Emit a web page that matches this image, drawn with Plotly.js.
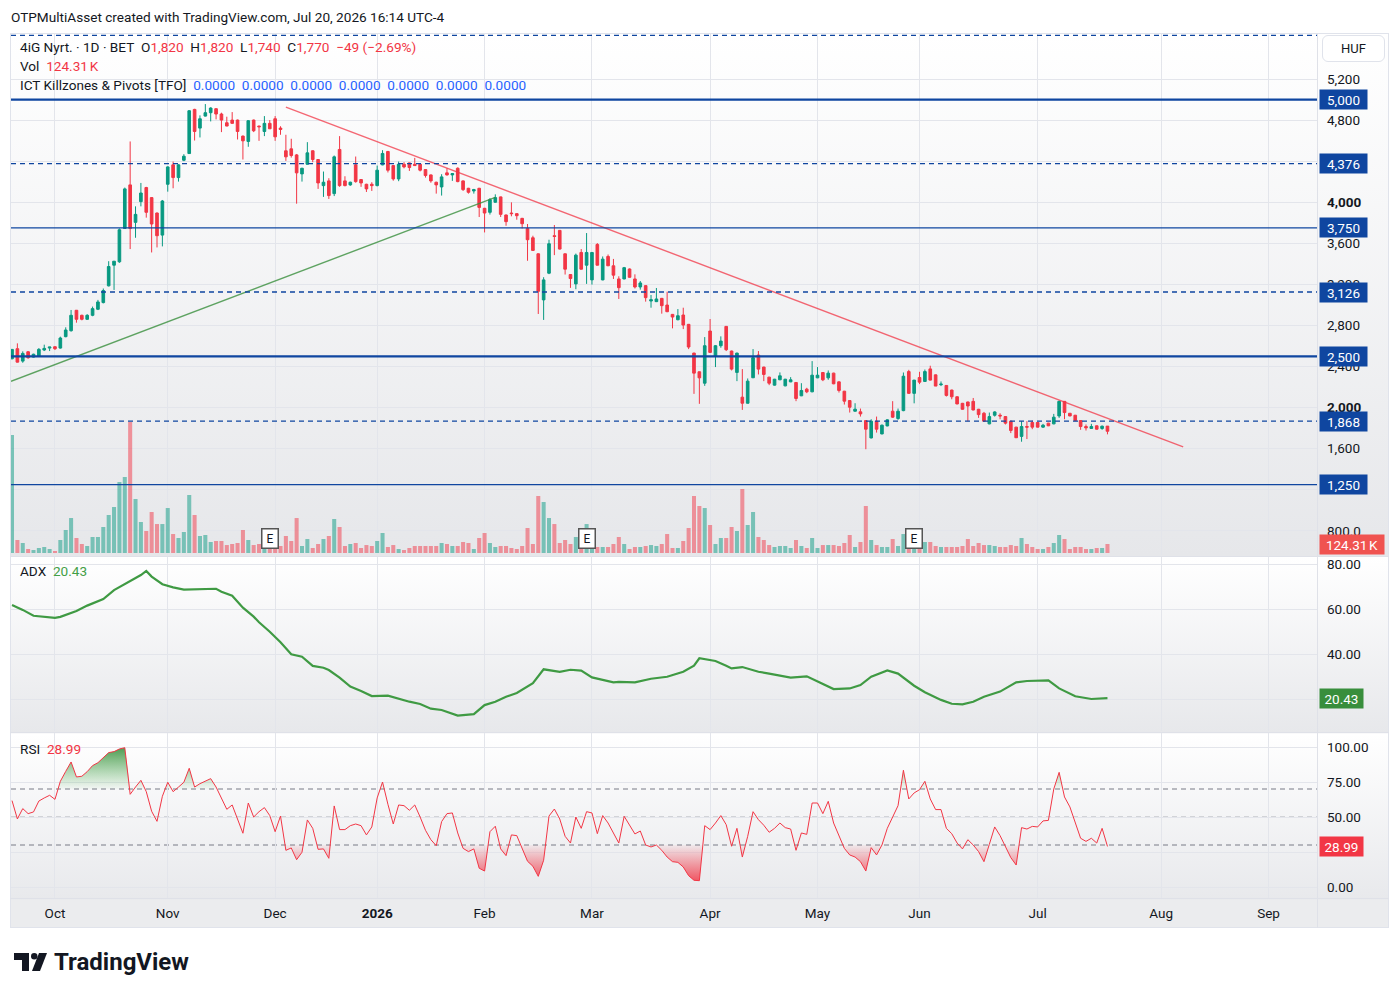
<!DOCTYPE html>
<html><head><meta charset="utf-8">
<script src="https://cdn.plot.ly/plotly-3.0.1.min.js"></script>
<style>
html,body{margin:0;padding:0;background:#fff;overflow:hidden;}
#bg{position:absolute;left:10px;top:33px;width:1379px;height:895px;box-sizing:border-box;border:1px solid #e0e3eb;
background:linear-gradient(to bottom,#ffffff 0px,#e6e7ea 522px,#ffffff 523px,#e7e8eb 698px,#ffffff 700px,#e8e9ec 865px,#ebecee 866px,#ebecee 895px);}
.hl{position:absolute;left:10px;width:1379px;height:1px;background:#dfe1e8;}
.vl{position:absolute;top:33px;left:1317px;width:1px;height:895px;background:#dfe1e8;}
#huf{position:absolute;left:1322px;top:35px;width:63px;height:27px;box-sizing:border-box;border:1px solid #e0e3eb;border-radius:6px;background:#fff;}
#chart{position:absolute;left:0;top:0;width:1400px;height:996px;}
</style></head><body>
<div id="bg"></div>
<div class="hl" style="top:556px"></div>
<div class="hl" style="top:732px"></div>
<div class="hl" style="top:898px"></div>
<div class="vl"></div>
<div id="huf"></div>
<div id="chart"></div>
<script>
// ---------------- DATA ----------------
const open = [2476,2574,2453,2544,2492,2502,2561,2580,2593,2580,
2691,2749,2948,2899,2860,2899,2958,3023,3186,3387,
3420,3745,4169,3804,4006,4143,4045,3895,3680,4175,
4364,4240,4409,4474,4904,4722,4839,4872,4911,4859,
4774,4800,4800,4644,4592,4800,4742,4689,4768,4813,
4722,4501,4520,4461,4276,4370,4501,4416,4162,4208,
4084,4514,4208,4169,4364,4221,4175,4175,4162,4364,
4494,4357,4227,4370,4383,4370,4370,4318,4266,4195,
4149,4286,4266,4331,4208,4136,4110,4136,3941,3902,
4000,4052,3876,3895,3889,3843,3745,3654,3498,3049,
3309,3674,3726,3498,3296,3205,3511,3387,3244,3589,
3244,3472,3381,3253,3253,3350,3253,3175,3188,3038,
3032,3064,2999,2908,2856,2902,2811,2531,2349,2238,
2746,2499,2603,2791,2551,2343,2102,2043,2291,2512,
2395,2297,2219,2271,2212,2251,2245,2115,2180,2154,
2290,2342,2290,2336,2251,2160,2069,1965,1959,1874,
1705,1868,1744,1822,1965,1894,1971,2351,2139,2293,
2255,2377,2319,2223,2216,2171,2106,2042,2055,2061,
1984,1945,1842,1926,1926,1913,1868,1810,1720,1816,
1855,1855,1810,1849,1842,1919,2061,1945,1926,1874,
1816,1797,1823,1797,1820];
const high = [2567,2626,2548,2550,2525,2580,2613,2590,2595,2691,
2782,2951,2951,2905,2910,2984,3049,3160,3426,3426,
3745,4143,4592,3960,4188,4150,4050,3900,4022,4350,
4396,4370,4468,4898,4910,4846,4956,4925,4915,4872,
4833,4878,4805,4650,4800,4805,4745,4839,4800,4839,
4740,4657,4618,4470,4335,4585,4505,4420,4299,4234,
4455,4644,4253,4200,4445,4225,4180,4195,4357,4507,
4500,4360,4396,4390,4385,4432,4375,4320,4270,4200,
4273,4331,4285,4340,4212,4140,4130,4140,3945,4040,
4077,4055,3880,3999,3892,3848,3788,3674,3502,3270,
3635,3778,3730,3500,3300,3500,3544,3700,3515,3602,
3472,3491,3448,3279,3370,3355,3298,3233,3192,3097,
3165,3068,3129,2912,2960,2973,2815,2535,2352,2687,
2863,2610,2694,2795,2555,2535,2375,2284,2570,2551,
2398,2300,2280,2343,2280,2297,2248,2238,2193,2453,
2395,2345,2362,2340,2255,2163,2072,2043,1991,1877,
1887,1913,1835,1887,2063,1991,2342,2368,2270,2349,
2371,2408,2322,2255,2220,2175,2110,2046,2058,2094,
1988,1958,1952,1965,1945,1916,1872,1813,1868,1868,
1874,1858,1842,1852,1939,2068,2064,1948,1929,1877,
1836,1842,1826,1826,1820];
const low = [2470,2440,2437,2476,2488,2500,2551,2551,2561,2575,
2685,2740,2827,2850,2855,2890,2950,3015,3180,3146,
3410,3740,3544,3654,3960,3850,3511,3560,3570,4103,
4136,4201,4400,4470,4601,4631,4835,4787,4807,4683,
4740,4765,4611,4416,4540,4683,4598,4644,4715,4598,
4657,4403,4435,3986,4201,4365,4390,4130,4052,4032,
4060,4150,4155,4160,4190,4150,4100,4110,4155,4360,
4290,4210,4205,4330,4305,4355,4300,4240,4190,4084,
4065,4260,4208,4195,4110,4084,4084,3856,3706,3880,
3995,3856,3771,3863,3830,3745,3430,3525,2912,2854,
3300,3485,3540,3296,3166,3153,3345,3205,3198,3385,
3240,3380,3253,3058,3250,3265,3160,3149,3032,2973,
3028,2915,2930,2772,2850,2765,2570,2134,2037,2212,
2535,2395,2583,2551,2362,2258,1978,2040,2288,2323,
2258,2219,2215,2268,2208,2248,2063,2112,2141,2150,
2287,2258,2271,2228,2147,2030,1952,1962,1913,1595,
1700,1757,1740,1818,1900,1881,1965,2135,2042,2229,
2252,2265,2210,2210,2108,2081,2033,1980,1868,1974,
1900,1865,1838,1913,1887,1836,1752,1704,1668,1694,
1790,1807,1803,1820,1838,1900,1887,1916,1871,1784,
1777,1794,1787,1784,1740];
const close = [2567,2443,2528,2486,2520,2567,2577,2590,2574,2678,
2756,2899,2860,2860,2899,2964,3029,3140,3374,3426,
3732,4130,3745,3882,4090,3902,3788,3674,4012,4344,
4240,4364,4448,4891,4689,4813,4872,4917,4859,4800,
4742,4768,4689,4598,4794,4696,4735,4768,4715,4637,
4709,4442,4455,4286,4331,4481,4416,4188,4195,4065,
4442,4162,4162,4195,4201,4188,4130,4162,4312,4475,
4312,4227,4370,4344,4338,4357,4312,4260,4208,4169,
4247,4266,4279,4201,4123,4097,4123,3950,3895,4025,
4045,3882,3811,3889,3869,3791,3635,3531,3133,3244,
3596,3667,3544,3348,3257,3485,3348,3511,3511,3387,
3446,3381,3290,3168,3363,3269,3175,3214,3071,3051,
3058,2993,2934,2882,2895,2804,2590,2336,2290,2603,
2538,2603,2648,2564,2375,2531,2043,2258,2486,2375,
2323,2238,2277,2310,2277,2271,2089,2167,2154,2316,
2316,2271,2336,2232,2167,2063,2004,1985,1939,1790,
1868,1790,1829,1881,1907,1965,2306,2139,2268,2248,
2351,2268,2210,2229,2119,2106,2036,1984,2016,1977,
1932,1868,1913,1958,1919,1849,1778,1707,1816,1810,
1810,1810,1829,1823,1907,2061,1952,1919,1874,1816,
1803,1816,1790,1819,1770];
// volume in thousands
const volume = [1630,180,138,55,41,69,83,55,28,180,
318,483,207,124,97,221,221,359,525,635,
980,1050,1809,746,428,304,566,400,400,621,
262,207,290,801,525,235,249,152,166,166,
110,124,138,318,180,110,124,83,69,83,
97,235,166,483,97,193,69,124,193,235,
470,359,97,124,138,69,110,97,166,276,
83,110,55,41,69,97,97,97,97,97,
138,124,97,97,152,138,55,207,276,138,
83,97,97,69,55,97,345,124,787,704,
483,400,138,180,124,221,83,400,83,83,
83,83,124,221,124,55,83,83,97,110,
97,124,262,69,69,166,345,787,649,621,
387,124,207,207,359,304,884,387,566,221,
180,110,83,97,97,69,180,97,69,207,
69,110,110,110,97,138,249,83,152,649,
180,110,83,83,193,97,262,138,83,83,
152,152,97,83,83,83,83,97,193,97,
138,110,110,97,83,83,110,97,207,124,
83,55,55,83,138,249,193,55,83,83,
55,55,69,69,124.31];
// ADX readings (bar index, value)
const adxIdx = [0,2,4,6,8,9,12,14,17,19,22,24,25,26,28,30,32,34,36,38,39,41,43,45,46,48,50,52,54,56,58,59,61,63,65,67,70,72,74,76,78,80,82,83,86,88,90,92,94,97,99,102,104,106,108,112,113,116,119,122,125,127,128,131,133,134,136,139,141,145,148,150,153,156,158,160,163,165,168,170,173,175,177,179,181,184,187,189,193,195,198,201,204];
const adxVal = [61.8,59.6,57.0,56.4,56.1,56.5,59.1,61.5,64.4,68.4,72.4,75.1,76.9,74.4,71.0,69.6,68.6,68.7,69.0,69.0,67.7,65.9,60.6,56.6,54.1,49.9,45.2,39.9,38.8,34.7,33.9,32.9,29.5,25.5,23.6,21.3,21.5,20.0,18.8,17.8,15.7,15.1,13.2,12.6,13.3,17.3,18.8,21.0,22.7,27.0,33.2,32.1,33.0,32.6,29.6,27.4,27.6,27.4,29.0,29.9,32.1,34.8,38.1,36.9,34.8,33.6,34.2,32.1,31.3,29.5,30.1,27.7,24.4,24.7,26.2,29.9,32.7,31.3,25.9,23.0,19.6,17.9,17.6,18.8,21.0,23.3,27.4,28.0,28.3,24.7,21.2,20.0,20.43];
const rsi = [61.7,48.6,56.0,52.4,53.6,61.4,63.6,65.5,62.6,75.5,
82.6,89.3,78.6,79.1,82.4,86.7,88.8,92.2,96.0,96.7,
98.6,99.5,66.2,71.4,76.2,68.1,54.1,46.9,64.8,74.8,
68.1,71.4,74.8,84.8,71.4,73.8,75.5,77.4,71.4,63.6,
55.5,58.6,48.6,38.4,60.0,50.0,53.8,56.7,51.0,39.5,
50.7,26.2,27.9,19.5,24.8,47.9,41.9,26.9,27.2,20.5,
57.9,41.0,41.0,43.8,45.0,43.8,37.2,42.9,63.6,75.0,
59.1,45.0,58.6,58.1,54.8,58.6,50.0,40.5,33.8,29.5,
46.7,52.4,52.9,38.6,27.6,25.3,27.2,13.4,11.4,39.5,
43.4,27.2,22.4,37.2,36.7,27.2,18.4,14.8,7.6,19.1,
50.7,55.7,48.6,36.2,31.4,50.0,41.9,53.8,52.9,38.1,
51.0,45.7,38.6,31.4,50.5,44.5,37.9,40.0,30.0,28.6,
30.0,26.2,21.4,18.1,17.6,14.3,8.1,4.8,4.5,43.8,
41.0,45.7,51.0,44.5,29.1,41.9,21.4,36.2,53.8,48.1,
44.1,39.1,41.9,45.7,42.4,41.4,26.2,38.6,37.6,60.0,
60.0,52.4,61.2,45.7,36.7,27.6,22.9,21.4,18.1,11.4,
28.1,22.9,30.0,41.9,50.0,58.1,83.4,62.9,67.2,69.5,
75.5,62.9,55.3,55.3,41.9,38.1,31.4,27.2,33.8,30.0,
25.3,18.1,30.5,42.9,36.7,29.1,21.0,15.7,42.4,41.4,
43.3,42.9,47.2,47.6,70.0,81.9,64.3,57.2,45.3,34.8,
32.6,34.8,31.4,41.9,28.99];
const levelVals = [5625,5000,4376,3750,3126,2500,1868,1250];
const levelBadge = [false,true,true,true,true,true,true,true];
const trendRedX = [51.0, 218.1], trendRedY = [4927, 1617];
const trendGreenX = [-0.19, 90.0], trendGreenY = [2256, 4048];
const earningsIdx = [48, 107, 168];
const monthIdx = [8,29,49,68,88,108,130,150,169,191,214,234];
const monthLbl = ['Oct','Nov','Dec','<b>2026</b>','Feb','Mar','Apr','May','Jun','Jul','Aug','Sep'];
const priceTicks = [800,1200,1600,2000,2400,2800,3200,3600,4000,4400,4800,5200];
const priceTickTxt = ['800.0','','1,600','<b>2,000</b>','2,400','2,800','3,200','3,600','<b>4,000</b>','','4,800','5,200'];
const adxTicks = [20,40,60,80], adxTickTxt = ['','40.00','60.00','80.00'];
const rsiTicks = [0,25,50,75,100], rsiTickTxt = ['0.00','','50.00','75.00','100.00'];
const rsiLevels = [70,50,30];

// ---------------- LAYOUT HELPERS ----------------
const W=1400,H=996,ML=11,MR=83,MT=33,MB=98;
const PW=W-ML-MR, PH=H-MT-MB;
const X = px => (px-ML)/PW;
const Y = py => (MT+PH-py)/PH;
const FONT = "Roboto, 'Noto Sans', Arial, sans-serif";
const GREEN='#089981', RED='#F23645', BLUE='#0f46a0', TXT='#131722';
const idx = close.map((_,i)=>i);
const fmt = v => Math.round(v).toLocaleString('en-US');

const traces = [];
traces.push({type:'bar', x:idx, y:volume, yaxis:'y2', width:0.75,
  marker:{color: close.map((c,i)=> c>=open[i] ? 'rgba(8,153,129,0.5)' : 'rgba(242,54,69,0.5)'), line:{width:0}},
  hoverinfo:'skip', showlegend:false});
traces.push({type:'candlestick', x:idx, open, high, low, close, yaxis:'y', whiskerwidth:0,
  increasing:{line:{color:GREEN,width:1}, fillcolor:GREEN},
  decreasing:{line:{color:RED,width:1}, fillcolor:RED}, showlegend:false, hoverinfo:'skip'});
traces.push({type:'scatter', mode:'lines', x:trendRedX, y:trendRedY, yaxis:'y', line:{color:'rgba(242,54,69,0.75)', width:1.4}, showlegend:false, hoverinfo:'skip'});
traces.push({type:'scatter', mode:'lines', x:trendGreenX, y:trendGreenY, yaxis:'y', line:{color:'rgba(56,142,60,0.8)', width:1.4}, showlegend:false, hoverinfo:'skip'});
traces.push({type:'scatter', mode:'lines', x:adxIdx, y:adxVal, yaxis:'y3', line:{color:'#3f9a43', width:2.2}, showlegend:false, hoverinfo:'skip'});

function band(vals, level, above){
  const xs=[], ys=[];
  for(let i=0;i<vals.length;i++){
    const v=vals[i];
    if(i>0){ const p=vals[i-1];
      if((p-level)*(v-level)<0){ const t=(level-p)/(v-p); xs.push(i-1+t); ys.push(level);} }
    xs.push(i); ys.push(above?Math.max(v,level):Math.min(v,level));
  }
  return {xs,ys};
}
const hi = band(rsi,70,true), lo = band(rsi,30,false);
traces.push({type:'scatter', mode:'lines', x:hi.xs, y:hi.xs.map(()=>70), yaxis:'y4', line:{width:0}, showlegend:false, hoverinfo:'skip'});
traces.push({type:'scatter', mode:'lines', x:hi.xs, y:hi.ys, yaxis:'y4', line:{width:0}, fill:'tonexty',
  fillcolor:'rgba(76,175,80,0.4)',
  fillgradient:{type:'vertical', start:70, stop:100, colorscale:[[0,'rgba(76,175,80,0.03)'],[1,'rgba(56,142,60,0.9)']]},
  showlegend:false, hoverinfo:'skip'});
traces.push({type:'scatter', mode:'lines', x:lo.xs, y:lo.xs.map(()=>30), yaxis:'y4', line:{width:0}, showlegend:false, hoverinfo:'skip'});
traces.push({type:'scatter', mode:'lines', x:lo.xs, y:lo.ys, yaxis:'y4', line:{width:0}, fill:'tonexty',
  fillcolor:'rgba(242,54,69,0.4)',
  fillgradient:{type:'vertical', start:0, stop:30, colorscale:[[0,'rgba(242,54,69,0.95)'],[1,'rgba(242,54,69,0.04)']]},
  showlegend:false, hoverinfo:'skip'});
traces.push({type:'scatter', mode:'lines', x:idx, y:rsi, yaxis:'y4', line:{color:RED, width:1}, showlegend:false, hoverinfo:'skip'});

// ---------------- SHAPES ----------------
const shapes = [];
levelVals.forEach((v,k)=>{
  const dashed = (k%2===0);
  const thick = (v===5000||v===2500);
  shapes.push({type:'line', xref:'paper', x0:0, x1:1, yref:'y', y0:v, y1:v, layer:'above',
    line:{color:BLUE, width: thick?2.2:(dashed?1.3:1.1), dash: dashed?'5px,4px':'solid'}});
});
rsiLevels.forEach(v=>{
  shapes.push({type:'line', xref:'paper', x0:0, x1:1, yref:'y4', y0:v, y1:v, layer:'below',
    line:{color: v===50?'rgba(120,123,134,0.55)':'#787b86', width:1, dash:'5px,4px'}});
});
const P = (pts)=> 'M'+pts.map(p=>X(p[0])+','+Y(p[1])).join(' L')+' Z';
shapes.push({type:'path', xref:'paper', yref:'paper', path:P([[14,953],[29,953],[29,971],[22,971],[22,960],[14,960]]), fillcolor:TXT, line:{width:0}});
shapes.push({type:'circle', xref:'paper', yref:'paper', x0:X(31), x1:X(37.5), y0:Y(953), y1:Y(959.5), fillcolor:TXT, line:{width:0}});
shapes.push({type:'path', xref:'paper', yref:'paper', path:P([[39,953],[47,953],[40,971],[32,971]]), fillcolor:TXT, line:{width:0}});

// ---------------- ANNOTATIONS ----------------
const ann = [];
const T = (px,py,text,size,opts)=> ann.push(Object.assign({xref:'paper', yref:'paper', x:X(px-2), y:Y(py), xanchor:'left', yanchor:'middle',
  text, showarrow:false, font:{family:FONT, size:size||13, color:TXT}}, opts||{}));
const Rc = s=>`<span style="color:${RED}">${s}</span>`;
const Bc = s=>`<span style="color:#2962ff">${s}</span>`;
const Gc = s=>`<span style="color:#43a047">${s}</span>`;
const n = close.length-1;
const chg = close[n]-close[n-1];
const pct = chg/close[n-1]*100;
const sp='\u00a0\u00a0';
T(11,17,'OTPMultiAsset created with TradingView.com, Jul 20, 2026 16:14 UTC-4',13.6);
T(20,47,`4iG Nyrt. · 1D · BET${sp}O${Rc(fmt(open[n]))}${sp}H${Rc(fmt(high[n]))}${sp}L${Rc(fmt(low[n]))}${sp}C${Rc(fmt(close[n]))}${sp}${Rc((chg<0?'\u2212':'+')+Math.abs(chg)+' ('+(chg<0?'\u2212':'+')+Math.abs(pct).toFixed(2)+'%)')}`,13.6);
T(20,66,`Vol${sp}${Rc(volume[n].toFixed(2)+'\u202fK')}`,13.6);
T(20,85,`ICT Killzones &amp; Pivots [TFO]${sp}`+Bc(Array(7).fill('0.0000').join('\u00a0\u00a0')),13.6);
T(20,571,`ADX${sp}${Gc(adxVal[adxVal.length-1].toFixed(2))}`,13.6);
T(20,749,`RSI${sp}${Rc(rsi[n].toFixed(2))}`,13.6);
T(54,962,'<b>TradingView</b>',24);
ann.push({xref:'paper', yref:'paper', x:X(1353.5), y:Y(48.5), text:'HUF', showarrow:false, xanchor:'center', yanchor:'middle',
  font:{family:FONT,size:13,color:TXT}});
function badge(yref, y, text, color, w){
  ann.push({xref:'paper', x:X(1319), xanchor:'left', yref, y, yanchor:'middle', text, showarrow:false,
    font:{family:FONT,size:13.5,color:'#ffffff'}, bgcolor:color, borderpad:2, width:w, height:15, align:'center'});
}
levelVals.forEach((v,k)=>{ if(levelBadge[k]) badge('y', v, fmt(v), BLUE, 43); });
badge('y2', volume[n], volume[n].toFixed(2)+'\u202fK', '#f05350', 60);
badge('y3', adxVal[adxVal.length-1], adxVal[adxVal.length-1].toFixed(2), '#388e3c', 39);
badge('y4', rsi[n], rsi[n].toFixed(2), RED, 39);
earningsIdx.forEach(i=>{
  ann.push({xref:'x', x:i, yref:'paper', y:Y(538), text:'E', showarrow:false, xanchor:'center', yanchor:'middle',
    font:{family:FONT,size:12,color:TXT}, bgcolor:'#ffffff', bordercolor:'#555', borderwidth:1.5, borderpad:2, width:11, height:14});
});

const GRID='#e3e5eb';
const axY = (extra)=>Object.assign({side:'right', anchor:'x', showgrid:true, gridcolor:GRID, gridwidth:1, zeroline:false, showline:false,
  ticks:'', ticklabelstandoff:9, tickfont:{family:FONT,size:13.5,color:TXT}, fixedrange:true}, extra);

const layout = {
  width:W, height:H, margin:{l:ML, r:MR, t:MT, b:MB},
  paper_bgcolor:'rgba(0,0,0,0)', plot_bgcolor:'rgba(0,0,0,0)',
  showlegend:false, dragmode:false, boxgap:0.3,
  font:{family:FONT, color:TXT},
  xaxis:{domain:[0,1], range:[-0.19,243.02], anchor:'y4', tickmode:'array', tickvals:monthIdx, ticktext:monthLbl,
    showgrid:true, gridcolor:GRID, gridwidth:1, zeroline:false, showline:false, ticks:'', ticklabelstandoff:5,
    tickfont:{family:FONT,size:13.5,color:TXT}, rangeslider:{visible:false}, fixedrange:true},
  yaxis: axY({domain:[Y(555),1], range:[565,5648], tickmode:'array', tickvals:priceTicks, ticktext:priceTickTxt}),
  yaxis2:{overlaying:'y', range:[-27.6,7181], visible:false, fixedrange:true},
  yaxis3: axY({domain:[Y(731),Y(557)], range:[5.78,83.11], tickmode:'array', tickvals:adxTicks, ticktext:adxTickTxt}),
  yaxis4: axY({domain:[0,Y(733)], range:[-7.86,110], tickmode:'array', tickvals:rsiTicks, ticktext:rsiTickTxt}),
  shapes, annotations:ann
};
Plotly.newPlot('chart', traces, layout, {displayModeBar:false, staticPlot:true});
</script></body></html>
